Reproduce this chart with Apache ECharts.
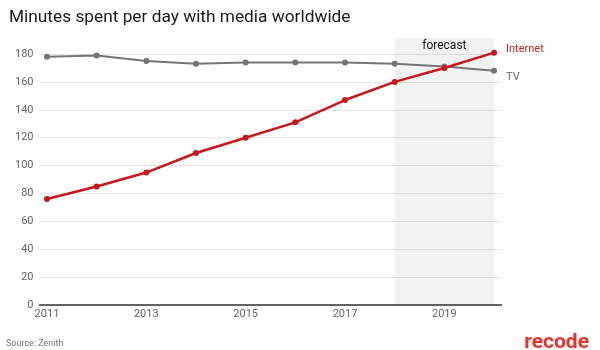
<!DOCTYPE html>
<html style="height: 100%">
<head>
  <meta charset="utf-8">
</head>
<body style="height: 100%; margin: 0; background: #fff">
  <div id="container" style="width: 600px; height: 350px"></div>
  <script type="text/javascript" src="https://cdn.jsdelivr.net/npm/echarts@6/dist/echarts.min.js"></script>
  <script type="text/javascript">
    // data
    var years = [2011, 2012, 2013, 2014, 2015, 2016, 2017, 2018, 2019, 2020];
    var internet = [76, 85, 95, 109, 120, 131, 147, 160, 170, 181];
    var tv = [178, 179, 175, 173, 174, 174, 174, 173, 171, 168];
    var yearLabels = [2011, 2013, 2015, 2017, 2019];
    var forecastFrom = 2018;
    var forecastTo = 2020;

    function pairs(vals) {
      return years.map(function (y, i) { return [y, vals[i]]; });
    }

    var chart = echarts.init(document.getElementById('container'));
    var font = 'Roboto, sans-serif';

    chart.setOption({
      animation: false,
      textStyle: { fontFamily: font },
      title: [
        {
          text: 'Minutes spent per day with media worldwide',
          left: 4, top: 4,
          textStyle: { fontSize: 17.3, fontWeight: 'normal', color: '#1a1a1a', fontFamily: font }
        },
        {
          text: 'Source: Zenith',
          left: 1, top: 334,
          textStyle: { fontSize: 9, fontWeight: 'normal', color: '#777', fontFamily: font }
        },
        {
          text: 'recode',
          right: 6, top: 327,
          textStyle: { fontSize: 21, fontWeight: 'bold', color: '#e8322b', fontFamily: font }
        }
      ],
      grid: { left: 39.5, right: 98.5, top: 38, bottom: 45 },
      xAxis: {
        type: 'value',
        min: 2010.85,
        max: 2020.15,
        splitLine: { show: false },
        axisLine: { show: true, onZero: false, lineStyle: { color: '#333', width: 1.5 } },
        axisTick: { show: false },
        axisLabel: {
          customValues: yearLabels,
          color: '#666', fontSize: 11, margin: 4,
          formatter: function (v) { return String(v); }
        }
      },
      yAxis: {
        type: 'value',
        min: 0,
        max: 191.5,
        interval: 20,
        axisLine: { show: false },
        axisTick: { show: false },
        splitLine: { showMaxLine: false, lineStyle: { color: '#e4e4e4', width: 1 } },
        axisLabel: { showMaxLabel: false, color: '#666', fontSize: 11, margin: 6 }
      },
      series: [
        {
          name: 'TV',
          type: 'line',
          data: pairs(tv),
          symbol: 'circle',
          symbolSize: 6,
          color: '#757575',
          lineStyle: { color: '#757575', width: 2 },
          endLabel: {
            show: true, formatter: 'TV', color: '#666', fontSize: 11,
            offset: [4, 6]
          }
        },
        {
          name: 'Internet',
          type: 'line',
          data: pairs(internet),
          symbol: 'circle',
          symbolSize: 6,
          color: '#c8161d',
          lineStyle: { color: '#c8161d', width: 2.5 },
          endLabel: {
            show: true, formatter: 'Internet', color: '#d0202a', fontSize: 11,
            offset: [4, -3]
          },
          markArea: {
            silent: true,
            itemStyle: { color: 'rgba(0,0,0,0.05)' },
            label: {
              show: true, position: 'insideTop', distance: 2,
              color: '#111', fontSize: 12, fontFamily: font
            },
            data: [[
              { name: 'forecast', xAxis: forecastFrom },
              { xAxis: forecastTo }
            ]]
          }
        }
      ]
    });
    window.onresize = chart.resize;
  </script>
</body>
</html>
